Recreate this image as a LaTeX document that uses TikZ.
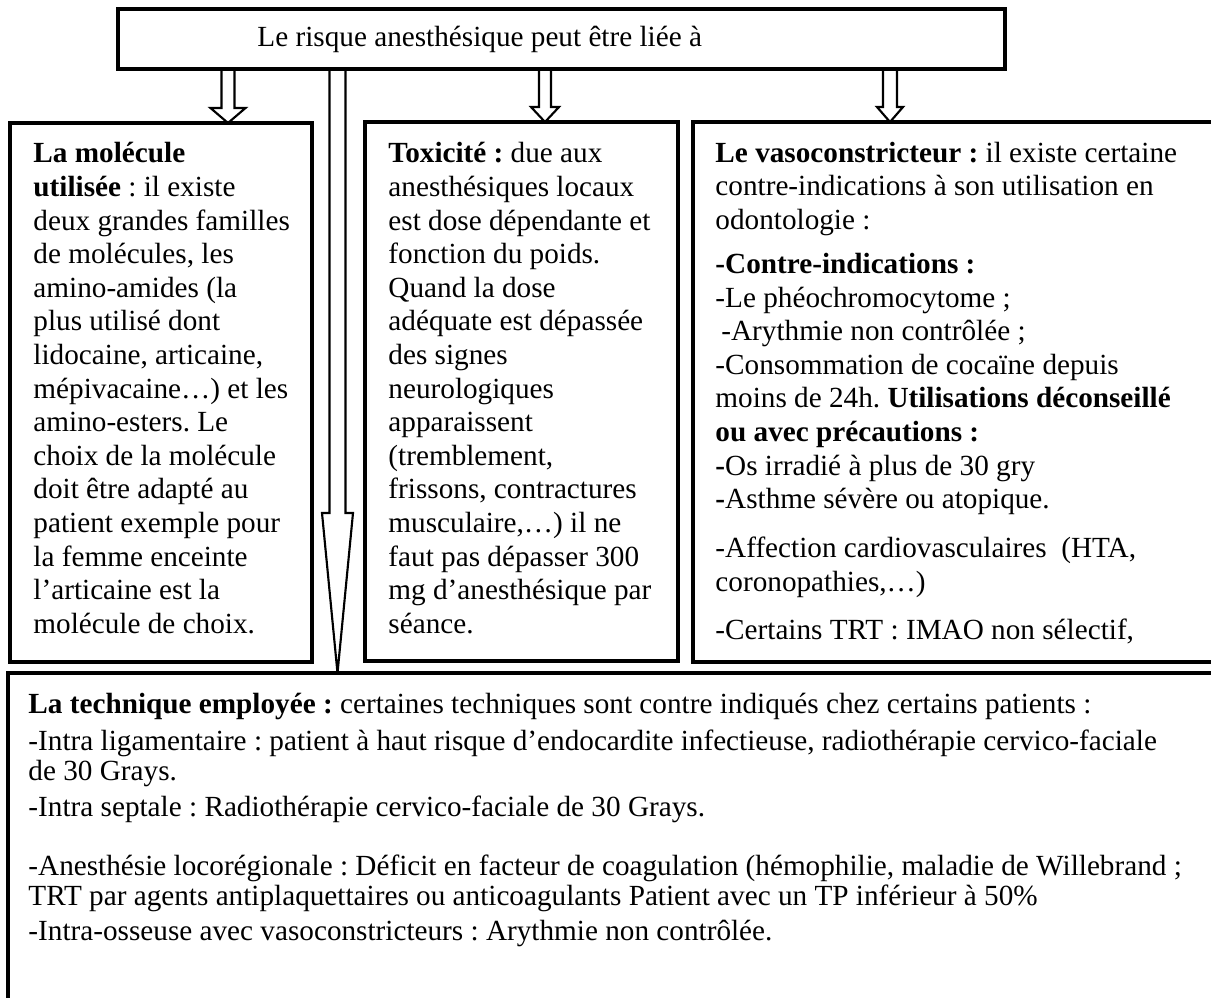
\documentclass[tikz,border=0pt]{standalone}
\usepackage{fontspec}
\setmainfont{Liberation Serif}
\usetikzlibrary{calc,fit}
\frenchspacing

\begin{document}
\begin{tikzpicture}[
  x=0.421pt, y=-0.421pt,
  box/.style={draw=black, line width=1.3pt, inner sep=0pt, outer sep=0pt},
  txt/.style={align=left, inner sep=0pt, anchor=base west,
              font=\fontsize{12.3}{14.15}\selectfont},
  blk/.style={draw=black, line width=0.9pt},
]
% ---- block arrow macro: #1 name #2 from #3 to #4 x #5 shaft half #6 head half #7 head length ----
\newcommand{\blkarr}[7]{%
  \coordinate (#1) at (#4,0);%
  \draw[blk] ($(#2.south -| #1)+(-#5,0)$) -- ($(#3.north -| #1)+(-#5,-#7)$)
    -- ($(#3.north -| #1)+(-#6,-#7)$) -- (#3.north -| #1)
    -- ($(#3.north -| #1)+(#6,-#7)$) -- ($(#3.north -| #1)+(#5,-#7)$)
    -- ($(#2.south -| #1)+(#5,0)$);%
}
\useasboundingbox (0,0) rectangle (1211,998);
\clip (0,0) rectangle (1211,998);

% ---- boxes ----
\node[box, fit={(118,9) (1005,69)}]    (risk) {};
\node[box, fit={(10,123) (312,662)}]   (mol)  {};
\node[box, fit={(365,122) (678,661)}]  (tox)  {};
\node[box, fit={(693,122) (1225,662)}] (vaso) {};
\node[box, fit={(8,673) (1225,1010)}]  (tech) {};

% ---- texts (placed at the baseline of their last line) ----
\node[txt] (risk-txt) at (257,47) {Le risque anesthésique peut être liée à};

\node[txt] (mol-txt) at (33,633.4) {\textbf{La molécule}\\
\textbf{utilisée} : il existe\\
deux grandes familles\\
de molécules, les\\
amino-amides (la\\
plus utilisé dont\\
lidocaine, articaine,\\
mépivacaine…) et les\\
amino-esters. Le\\
choix de la molécule\\
doit être adapté au\\
patient exemple pour\\
la femme enceinte\\
l’articaine est la\\
molécule de choix.};

\node[txt] (tox-txt) at (388,633.4) {\textbf{Toxicité :} due aux\\
anesthésiques locaux\\
est dose dépendante et\\
fonction du poids.\\
Quand la dose\\
adéquate est dépassée\\
des signes\\
neurologiques\\
apparaissent\\
(tremblement,\\
frissons, contractures\\
musculaire,…) il ne\\
faut pas dépasser 300\\
mg d’anesthésique par\\
séance.};

\node[txt] (vaso-txt) at (715,639) {\textbf{Le vasoconstricteur :} il existe certaine\\
contre-indications à son utilisation en\\
odontologie :\\[4.4pt]
\textbf{-Contre-indications :}\\
-Le phéochromocytome ;\\
\hspace*{2.5pt}-Arythmie non contrôlée ;\\
-Consommation de cocaïne depuis\\
moins de 24h. \textbf{Utilisations déconseillé}\\
\textbf{ou avec précautions :}\\
\textbf{-}Os irradié à plus de 30 gry\\
\textbf{-}Asthme sévère ou atopique.\\[6.5pt]
-Affection cardiovasculaires\ \ (HTA,\\
coronopathies,…)\\[5.9pt]
-Certains TRT : IMAO non sélectif,};

\node[txt, font=\fontsize{12.3}{12.63}\selectfont] (tech-txt) at (28,940) {\textbf{La technique employée :} certaines techniques sont contre indiqués chez certains patients :\\[2.95pt]
-Intra ligamentaire : patient à haut risque d’endocardite infectieuse, radiothérapie cervico-faciale\\
de 30 Grays.\\[2.5pt]
-Intra septale : Radiothérapie cervico-faciale de 30 Grays.\\[12.6pt]
-Anesthésie locorégionale : Déficit en facteur de coagulation (hémophilie, maladie de Willebrand ;\\
TRT par agents antiplaquettaires ou anticoagulants Patient avec un TP inférieur à 50\%\\[1.7pt]
-Intra-osseuse avec vasoconstricteurs : Arythmie non contrôlée.};

% ---- arrows ----
\blkarr{a-mol}{risk}{mol}{228}{6.5}{17.5}{15}
\blkarr{a-tox}{risk}{tox}{545}{6}{14}{15}
\blkarr{a-vaso}{risk}{vaso}{890}{7}{13}{15}
\blkarr{a-tech}{risk}{tech}{337.5}{8}{15.5}{160}
\end{tikzpicture}
\end{document}
